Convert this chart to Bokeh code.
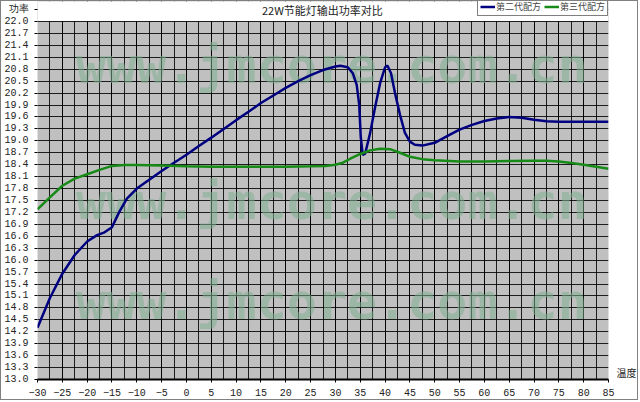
from bokeh.plotting import figure
from bokeh.models import (FixedTicker, Range1d, Legend, LegendItem, Label,
                          CustomJSTickFormatter, LinearAxis, Grid,
                          BoxAnnotation)
from bokeh.embed import file_html
from bokeh.resources import INLINE
from bokeh.core.properties import value

# ---------------- data ----------------
title_text = "22W节能灯输出功率对比"
y_title = "功率"
x_title = "温度"
series_names = ["第二代配方", "第三代配方"]
watermark = "www.jmcore.com.cn"

x_ticks = [-30, -25, -20, -15, -10, -5, 0, 5, 10, 15, 20, 25, 30, 35, 40,
           45, 50, 55, 60, 65, 70, 75, 80, 85]
x_minor = [-30 + 2.5 * i for i in range(47)]
y_ticks = [round(13.0 + 0.3 * i, 1) for i in range(31)]
y_min, y_max = 13.0, 22.0
x_min, x_max = -30, 85

gen2_x = [-30, -27.5, -25, -22.5, -20, -18, -16.5, -15, -13.5, -12, -10, -7.5,
          -5, -2.5, 0, 2.5, 5, 7.5, 10, 12.5, 15, 17.5, 20, 22.5, 25, 27.5,
          30, 31, 32.5, 33.5, 34.3, 34.8, 35.1, 35.5, 36, 37, 38, 39, 40,
          40.5, 41.2, 42, 43, 44, 45, 46, 47.5, 50, 52.5, 55, 57.5, 60, 62.5,
          65, 67.5, 70, 72.5, 75, 80, 85]
gen2_y = [14.30, 15.05, 15.66, 16.13, 16.47, 16.63, 16.70, 16.83, 17.22, 17.55,
          17.80, 18.02, 18.24, 18.45, 18.65, 18.87, 19.08, 19.30, 19.52, 19.73,
          19.95, 20.14, 20.33, 20.50, 20.65, 20.78, 20.87, 20.89, 20.85, 20.70,
          20.40, 19.90, 19.10, 18.65, 18.68, 19.20, 19.85, 20.45, 20.85, 20.89,
          20.70, 20.20, 19.66, 19.20, 18.98, 18.90, 18.88, 18.95, 19.12, 19.28,
          19.40, 19.50, 19.56, 19.60, 19.58, 19.53, 19.49, 19.48, 19.48, 19.48]

gen3_x = [-30, -27.5, -25, -22.5, -20, -17.5, -15, -12.5, -10, -5, 0, 5, 10,
          15, 20, 25, 28, 30, 31.5, 33, 35, 37, 39, 41, 43, 45, 47.5, 50, 55,
          60, 65, 70, 72.5, 75, 77.5, 80, 82.5, 85]
gen3_y = [17.28, 17.58, 17.87, 18.05, 18.16, 18.27, 18.37, 18.39, 18.39, 18.38,
          18.36, 18.35, 18.35, 18.35, 18.35, 18.36, 18.37, 18.40, 18.45, 18.55,
          18.67, 18.76, 18.80, 18.79, 18.70, 18.60, 18.54, 18.51, 18.48, 18.48,
          18.49, 18.50, 18.50, 18.48, 18.44, 18.40, 18.35, 18.30]

watermark_x = [29.3, 29.3, 29.3]
watermark_y = [20.87, 17.45, 14.96]

# ---------------- figure ----------------
# frame reaches the top edge so that title/legend (above the grid) are visible
p = figure(width=638, height=400, output_backend="svg", toolbar_location=None,
           x_range=Range1d(x_min, x_max), y_range=Range1d(y_min, 22.503),
           min_border_left=35, min_border_right=23, min_border_top=0,
           min_border_bottom=22)
p.styles = {"border": "1px solid #808080"}
p.background_fill_color = "#c0c0c0"
p.border_fill_color = "white"
p.outline_line_color = None

p.xaxis.ticker = FixedTicker(ticks=x_ticks, minor_ticks=x_minor)
p.yaxis.ticker = FixedTicker(ticks=y_ticks + [22.3])
p.yaxis.formatter = CustomJSTickFormatter(
    code="return tick > 22.1 ? '%s' : tick.toFixed(1);" % y_title)

for ax in (p.xaxis, p.yaxis):
    ax.axis_line_color = "black"
    ax.axis_line_width = 2
    ax.major_tick_line_color = "black"
    ax.minor_tick_line_color = None
    ax.major_tick_in = 0
    ax.major_tick_out = 3
    ax.major_label_text_font = "Liberation Mono"
    ax.major_label_text_font_size = "10px"
    ax.major_label_text_color = "#222222"
p.yaxis.axis_line_color = None
p.yaxis.major_label_standoff = 6
p.xaxis.major_label_standoff = 5

p.xgrid.grid_line_color = "black"
p.xgrid.minor_grid_line_color = "black"
p.xgrid.grid_line_alpha = 0.85
p.xgrid.minor_grid_line_alpha = 0.85
p.ygrid.grid_line_color = "black"
p.ygrid.grid_line_alpha = 0.85

# thick left axis line
p.add_layout(Grid(dimension=0, ticker=FixedTicker(ticks=[x_min]),
                  grid_line_color="black", grid_line_width=2))

# right side axis title
rax = LinearAxis(ticker=FixedTicker(ticks=[13.18]),
                 major_label_overrides={13.18: x_title},
                 axis_line_color=None, major_tick_line_color=None,
                 minor_tick_line_color=None, major_label_standoff=2,
                 major_label_text_font="Noto Sans CJK SC",
                 major_label_text_font_size="10px",
                 major_label_text_color="#222222")
p.add_layout(rax, "right")

# white band above the plot area
p.add_layout(BoxAnnotation(bottom=y_max + 0.015, fill_color="white",
                           fill_alpha=1, line_color=None, level="glyph"))

# watermark
p.text(x=watermark_x, y=watermark_y, text=[watermark] * 3,
       text_font=value("DejaVu Sans Mono"), text_font_style="bold",
       text_font_size="50px", text_align="center", text_baseline="middle",
       text_color="#7fae8f", text_alpha=0.55)

r2 = p.line(gen2_x, gen2_y, line_color="#000080", line_width=2.5)
r3 = p.line(gen3_x, gen3_y, line_color="#178a17", line_width=2.5)

legend = Legend(items=[LegendItem(label=series_names[0], renderers=[r2]),
                       LegendItem(label=series_names[1], renderers=[r3])],
                orientation="horizontal", location=(440, 363),
                label_text_font="Noto Sans CJK SC",
                label_text_font_size="9px", glyph_width=15, glyph_height=9,
                label_height=9, label_standoff=1, spacing=3, padding=2,
                margin=0, border_line_color="black", border_line_width=1,
                background_fill_color="white", background_fill_alpha=1)
p.add_layout(legend, "center")

p.add_layout(Label(x=15.2, y=22.28, text=title_text, text_align="left",
                   text_baseline="middle", text_font="Noto Sans CJK SC",
                   text_font_size="11px", text_color="#222222"))

open("out.html", "w").write(file_html(p, INLINE))
